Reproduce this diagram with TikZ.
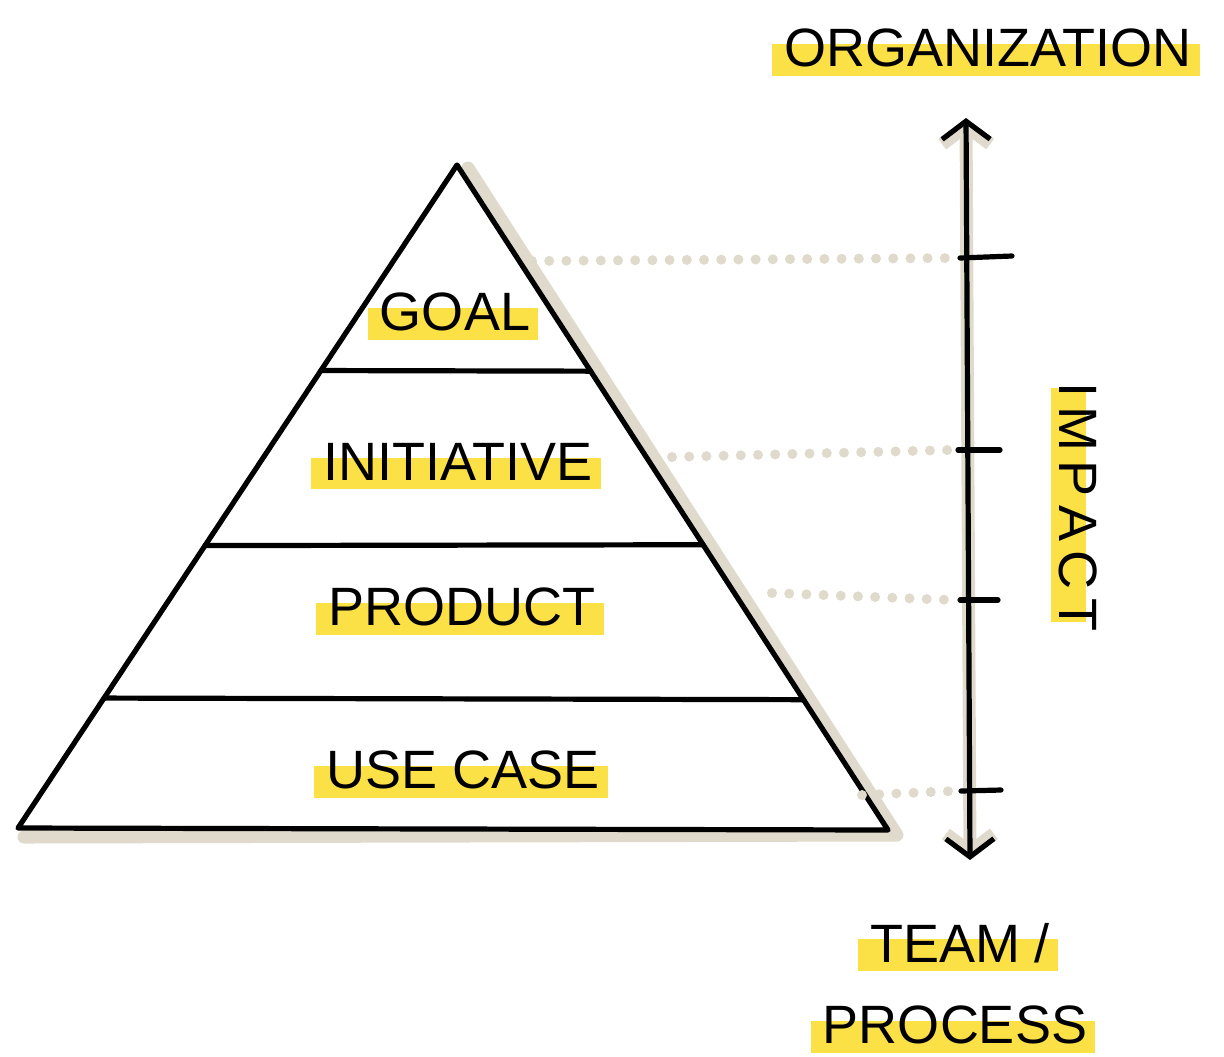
\documentclass[tikz,border=0pt]{standalone}
\usepackage{fontspec}
\setmainfont{Liberation Sans}
\usetikzlibrary{arrows.meta,calc,backgrounds}

\definecolor{marker}{RGB}{251,224,70}
\definecolor{sand}{RGB}{223,218,204}

\tikzset{
  outline/.style={line width=2.6pt, line cap=round, line join=round},
  shadowline/.style={sand, line width=6.5pt, line cap=round, line join=round},
  dots/.style={sand, line width=5pt, line cap=round, dash pattern=on 0pt off 8.6pt},
  word/.style={font=\fontsize{27}{30}\selectfont, inner sep=1pt},
  >={Straight Barb[length=9pt, width=24pt]},
}

\begin{document}
\begin{tikzpicture}[x=0.5pt, y=-0.5pt]
    \useasboundingbox (0,0) rectangle (1224,1056);

    % Pyramid corners
    \coordinate (apex) at (457,165);
    \coordinate (bl) at (18,828);
    \coordinate (br) at (888,830);

    % Shadow of the pyramid
    \draw[shadowline] ($(apex)+(11,3)$) -- ($(br)+(9,5)$) -- ($(bl)+(6,9)$);

    % Pyramid with its layers
    \draw[outline] (apex) -- (br) -- (bl) -- cycle;
    \draw[outline] ($(apex)!0.31!(bl)$) -- ($(apex)!0.31!(br)$);
    \draw[outline] ($(apex)!0.574!(bl)$) -- ($(apex)!0.571!(br)$);
    \draw[outline] ($(apex)!0.804!(bl)$) -- ($(apex)!0.804!(br)$);

    % Layer labels
    \node[word] (goal) at (455,312) {GOAL};
    \node[word] (init) at (458,462) {INITIATIVE};
    \node[word] (prod) at (462,607) {PRODUCT};
    \node[word] (usecase) at (463,770) {USE CASE};

    % Impact axis
    \coordinate (top) at (966,118);
    \coordinate (bot) at (970,860);
    \draw[shadowline, <->, shift={(-7,4)}] (top) -- (bot);
    \draw[outline, <->] (top) -- (bot);

    % Ticks
    \coordinate (t1) at (960,258);
    \coordinate (t2) at (958,450);
    \coordinate (t3) at (960,600);
    \coordinate (t4) at (961,791);
    \draw[outline] (t1) -- ++(52,-2);
    \draw[outline] (t2) -- ++(42,0);
    \draw[outline] (t3) -- ++(38,0);
    \draw[outline] (t4) -- ++(40,-1);

    % Dotted guides from the layers
    \coordinate (d1) at (532,261);
    \coordinate (d2) at (672,457);
    \coordinate (d3) at (772,593);
    \coordinate (d4) at (862,795);
    \draw[dots] (d1) -- ($(t1)+(-8,0)$);
    \draw[dots] (d2) -- ($(t2)+(-8,0)$);
    \draw[dots] (d3) -- ($(t3)+(-8,0)$);
    \draw[dots] (d4) -- ($(t4)+(-8,0)$);

    % Axis ends
    \node[word] (org) at (988,48) {ORGANIZATION};
    \node[word, rotate=-90] (impact) at (1078,507) {I\,M\,P\,A\,C\,T};
    \node[word] (team) at (960,943) {TEAM /};
    \node[word] (process) at (955,1025) {PROCESS};

    % Marker highlights
    \begin{scope}[on background layer]
      \foreach \n in {goal,init,prod,usecase,org,team,process}
        \fill[marker] ([xshift=-5pt,yshift=-3pt]\n.south west) rectangle ([xshift=3pt,yshift=2pt]\n.east);
      \fill[marker] ([xshift=-3pt,yshift=-4pt]impact.south west) rectangle ([xshift=4pt,yshift=6pt]impact.east);
    \end{scope}
\end{tikzpicture}
\end{document}
